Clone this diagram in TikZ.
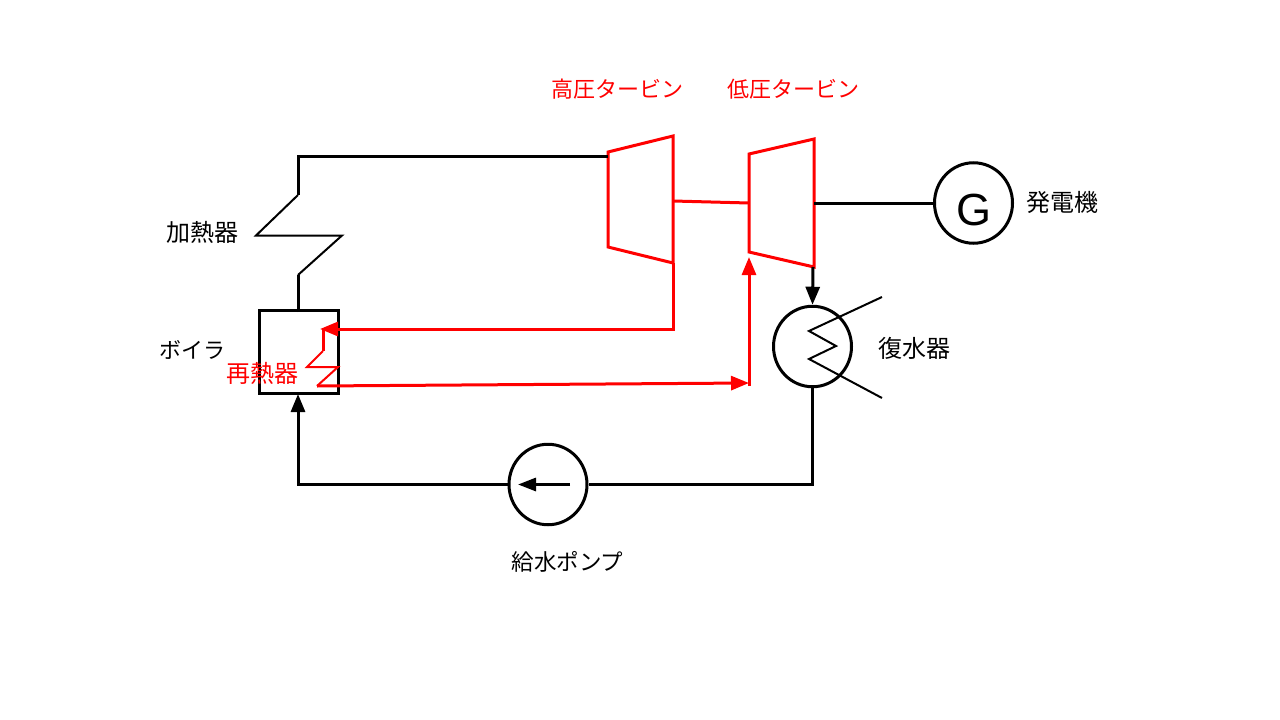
\documentclass[tikz,border=0pt]{standalone}
\usepackage{fontspec}
\setmainfont{Noto Sans CJK JP}
\newfontfamily\latinfont{Liberation Sans}
\usetikzlibrary{arrows.meta}
\usetikzlibrary{shapes.geometric}
\tikzset{
    pipe/.style={line width=3pt, color=black, line join=miter},
    steam/.style={line width=3pt, color=red, line join=miter},
    coil/.style={line width=2pt},
    label/.style={font=\fontsize{22}{22}\selectfont, inner sep=0pt},
    biglabel/.style={font=\fontsize{24}{24}\selectfont, inner sep=0pt},
    tip/.style={-{Triangle[length=18pt, width=14pt]}},
    machine/.style={ellipse, draw, line width=3pt, inner sep=0pt, minimum width=78pt, minimum height=80.5pt}
}

\begin{document}
\begin{tikzpicture}[x=1pt, y=-1pt]
            \useasboundingbox (0, 0) rectangle (1280, 720);

            % fix the points of the loop
            \coordinate (heaterTop) at (298, 156.5);
            \coordinate (heaterA) at (298, 195);
            \coordinate (heaterB) at (256, 235.5);
            \coordinate (heaterC) at (342, 235.5);
            \coordinate (heaterD) at (298, 275);
            \coordinate (heaterEnd) at (298, 312);
            \coordinate (hpIn) at (608, 156.5);
            \coordinate (hpOut) at (673, 201);
            \coordinate (lpIn) at (749, 203);
            \coordinate (lpShaft) at (814, 203);
            \coordinate (lpOut) at (813, 267);
            \coordinate (hpExit) at (673, 263);
            \coordinate (hpDown) at (673, 329);
            \coordinate (reheatTip) at (320, 329);
            \coordinate (reheatIn) at (323, 329);
            \coordinate (reheatA) at (323, 351);
            \coordinate (reheatB) at (307, 367);
            \coordinate (reheatC) at (338, 367);
            \coordinate (reheatD) at (317, 386);
            \coordinate (lpCross) at (749, 383);
            \coordinate (lpArrow) at (749, 257);
            \coordinate (lpFoot) at (749, 386);
            \coordinate (pumpCorner) at (812.5, 484.5);
            \coordinate (boilerCorner) at (298, 484.5);
            \coordinate (boilerIn) at (298, 394);
            \coordinate (pumpTail) at (570, 484.5);
            \coordinate (pumpHead) at (518, 484.5);

            % draw boiler and rotating machines
            \node[draw, line width=3pt, minimum width=79pt, minimum height=83pt, inner sep=0pt] (boiler) at (298.5, 351.5) {};
            \node[machine] (generator) at (973.5, 203) {};
            \node[machine] (condenser) at (812.5, 346.5) {};
            \node[machine] (pump) at (548, 484.5) {};

            % draw turbines
            \draw[steam] (608, 152) -- (673, 136) -- (673, 263) -- (608, 247) -- cycle;
            \draw[steam] (749, 154) -- (814, 139) -- (814, 267) -- (749, 252) -- cycle;

            % draw black pipes
            \draw[pipe] (heaterEnd) -- (heaterD);
            \draw[coil] (heaterD) -- (heaterC) -- (heaterB) -- (heaterA);
            \draw[pipe] (heaterA) -- (heaterTop) -- (hpIn);
            \draw[pipe] (lpShaft) -- (generator.west);
            \draw[pipe, tip] (lpOut) -- (condenser.north);
            \draw[pipe] (condenser.south) -- (pumpCorner) -- (pump.east);
            \draw[pipe, tip] (pump.west) -- (boilerCorner) -- (boilerIn);
            \draw[pipe, -{Triangle[length=18pt, width=13pt]}] (pumpTail) -- (pumpHead);

            % draw condenser coil
            \draw[coil] (882, 297) -- (809, 331) -- (836, 346) -- (809, 359) -- (882, 398);

            % draw red pipes
            \draw[steam] (hpOut) -- (lpIn);
            \draw[steam, tip] (hpExit) -- (hpDown) -- (reheatTip);
            \draw[steam] (reheatIn) -- (reheatA);
            \draw[coil, red] (reheatA) -- (reheatB) -- (reheatC) -- (reheatD);
            \draw[steam, tip] (reheatD) -- (lpCross);
            \draw[steam, tip] (lpFoot) -- (lpArrow);

            % draw labels
            \node[label, font=\latinfont\fontsize{45}{45}\selectfont] (genLetter) at (974, 210) {G};
            \node[label, text=red] (hpLabel) at (617, 89) {高圧タービン};
            \node[label, text=red] (lpLabel) at (793, 89) {低圧タービン};
            \node[biglabel] (heaterLabel) at (202.5, 232) {加熱器};
            \node[label] (boilerLabel) at (192, 350) {ボイラ};
            \node[biglabel, text=red] (reheatLabel) at (262, 373) {再熱器};
            \node[biglabel] (genLabel) at (1062.5, 202) {発電機};
            \node[biglabel] (condLabel) at (914, 348) {復水器};
            \node[label, font=\fontsize{22.5}{22.5}\selectfont] (pumpLabel) at (567.5, 562) {給水ポンプ};
        \end{tikzpicture}
\end{document}
